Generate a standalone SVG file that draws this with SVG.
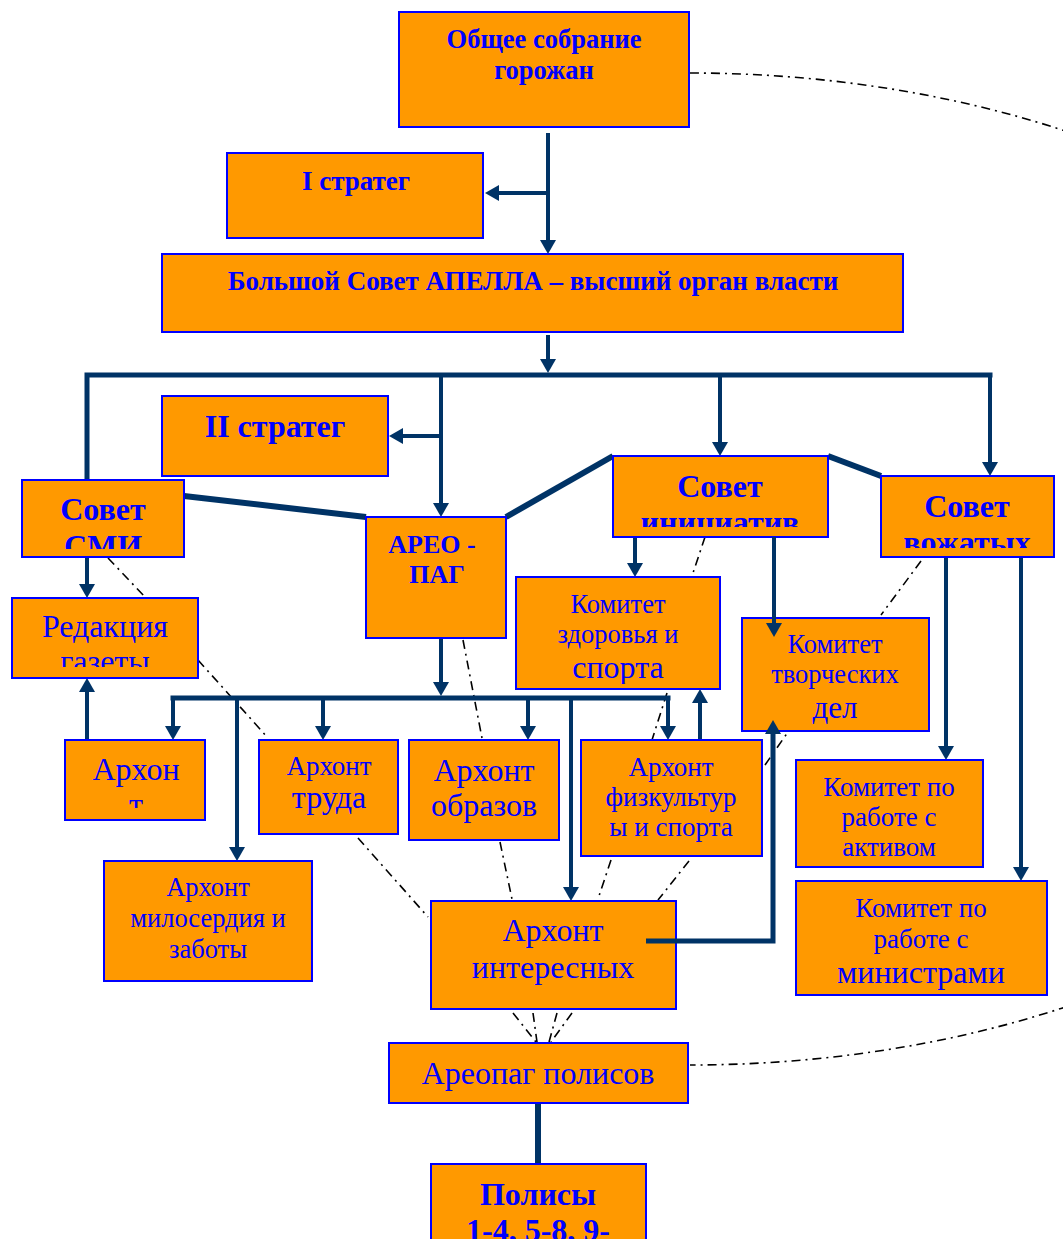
<svg xmlns="http://www.w3.org/2000/svg" width="1063" height="1239" viewBox="0 0 1063 1239">
<style>
.box{fill:#FF9900;stroke:#0000FF;stroke-width:2}
.t{font-family:"Liberation Serif","Times New Roman",serif;fill:#0000FF;text-anchor:middle}
.b{font-weight:bold}
.c{fill:none;stroke:#003366;stroke-width:4}
.bus{fill:none;stroke:#003366;stroke-width:5;stroke-linecap:square}
.k{fill:none;stroke:#003366;stroke-width:6}
.d{fill:none;stroke:#000000;stroke-width:1.6;stroke-dasharray:9 5 2 5}
</style>
<defs>
<marker id="arr" markerUnits="userSpaceOnUse" markerWidth="14" markerHeight="16" viewBox="0 0 14 16" refX="2" refY="8" orient="auto">
<path d="M0,0 L14,8 L0,16 z" fill="#003366"/>
</marker>
<clipPath id="cSmi"><rect x="23" y="481" width="160" height="68"/></clipPath>
<clipPath id="cIni"><rect x="614" y="457" width="213" height="70"/></clipPath>
<clipPath id="cVoz"><rect x="882" y="477" width="171" height="71"/></clipPath>
<clipPath id="cRed"><rect x="13" y="599" width="184" height="68"/></clipPath>
<clipPath id="cZdr"><rect x="517" y="578" width="202" height="106"/></clipPath>
<clipPath id="cArt"><rect x="66" y="741" width="138" height="67"/></clipPath>
</defs>

<g id="connectors">
<path class="d" d="M690,73 A800,496 0 0 1 690,1065"/>
<path class="d" d="M108,558 L146,598"/>
<path class="d" d="M198,660 L268,738"/>
<path class="d" d="M358,838 L428,917"/>
<path class="d" d="M463,640 L482,738"/>
<path class="d" d="M500,842 L512,899"/>
<path class="d" d="M705,537 L692,576"/>
<path class="d" d="M667,693 L652,740"/>
<path class="d" d="M765,765 L788,732"/>
<path class="d" d="M921,561 L881,615"/>
<path class="d" d="M611,860 L598,899"/>
<path class="d" d="M689,861 L658,900"/>
<path class="d" d="M513,1013 L536,1042"/>
<path class="d" d="M533,1013 L537,1042"/>
<path class="d" d="M557,1013 L549,1042"/>
<path class="d" d="M572,1013 L551,1042"/>

<path class="c" d="M548,133 V242" marker-end="url(#arr)"/>
<path class="c" d="M548,193 H497" marker-end="url(#arr)"/>
<path class="c" d="M548,335 V361" marker-end="url(#arr)"/>
<path class="bus" d="M87,480 V375 H990"/>
<path class="c" d="M990,375 V464" marker-end="url(#arr)"/>
<path class="c" d="M720,375 V444" marker-end="url(#arr)"/>
<path class="c" d="M441,375 V505" marker-end="url(#arr)"/>
<path class="c" d="M441,436 H401" marker-end="url(#arr)"/>
<path class="k" d="M184,496 L366,517"/>
<path class="k" d="M506,517 L613,456"/>
<path class="k" d="M828,456 L881,476"/>
<path class="c" d="M87,557 V586" marker-end="url(#arr)"/>
<path class="c" d="M87,740 V690" marker-end="url(#arr)"/>
<path class="c" d="M441,638 V684" marker-end="url(#arr)"/>
<path class="bus" d="M173,698 H668"/>
<path class="c" d="M173,698 V728" marker-end="url(#arr)"/>
<path class="c" d="M237,698 V849" marker-end="url(#arr)"/>
<path class="c" d="M323,698 V728" marker-end="url(#arr)"/>
<path class="c" d="M528,698 V728" marker-end="url(#arr)"/>
<path class="c" d="M571,698 V889" marker-end="url(#arr)"/>
<path class="c" d="M668,698 V728" marker-end="url(#arr)"/>
<path class="c" d="M700,740 V701" marker-end="url(#arr)"/>
<path class="c" d="M635,537 V565" marker-end="url(#arr)"/>
<path class="c" d="M946,557 V748" marker-end="url(#arr)"/>
<path class="c" d="M1021,557 V869" marker-end="url(#arr)"/>
<path class="k" d="M538,1103 V1164"/>
</g>

<g id="n-obshchee"><rect class="box" x="399" y="12" width="290" height="115"/>
<text class="t b" x="544" y="48" font-size="26.5">Общее собрание</text>
<text class="t b" x="544" y="79" font-size="26.5">горожан</text></g>

<g id="n-strateg1"><rect class="box" x="227" y="153" width="256" height="85"/>
<text class="t b" x="356" y="190" font-size="27">I стратег</text></g>

<g id="n-apella"><rect class="box" x="162" y="254" width="741" height="78"/>
<text class="t b" x="533" y="290" font-size="27">Большой Совет АПЕЛЛА – высший орган власти</text></g>

<g id="n-strateg2"><rect class="box" x="162" y="396" width="226" height="80"/>
<text class="t b" x="275" y="437" font-size="32">II стратег</text></g>

<g id="n-smi"><rect class="box" x="22" y="480" width="162" height="77"/>
<g clip-path="url(#cSmi)"><text class="t b" x="103" y="520" font-size="32">Совет</text>
<text class="t b" x="103" y="557" font-size="32">СМИ</text></g></g>

<g id="n-areopag"><rect class="box" x="366" y="517" width="140" height="121"/>
<text class="t b" x="432" y="553" font-size="26">АРЕО -</text>
<text class="t b" x="437" y="583" font-size="26">ПАГ</text></g>

<g id="n-initsiativ"><rect class="box" x="613" y="456" width="215" height="81"/>
<g clip-path="url(#cIni)"><text class="t b" x="720" y="497" font-size="32">Совет</text>
<text class="t b" x="720" y="533" font-size="32">инициатив</text></g></g>

<g id="n-vozhatyh"><rect class="box" x="881" y="476" width="173" height="81"/>
<g clip-path="url(#cVoz)"><text class="t b" x="967" y="517" font-size="32">Совет</text>
<text class="t b" x="967" y="553" font-size="32">вожатых</text></g></g>

<g id="n-redaktsiya"><rect class="box" x="12" y="598" width="186" height="80"/>
<g clip-path="url(#cRed)"><text class="t" x="105" y="637" font-size="32">Редакция</text>
<text class="t" x="105" y="672" font-size="32">газеты</text></g></g>

<g id="n-zdorovie"><rect class="box" x="516" y="577" width="204" height="112"/>
<g clip-path="url(#cZdr)"><text class="t" x="618" y="613" font-size="26.5">Комитет</text>
<text class="t" x="618" y="643" font-size="26.5">здоровья и</text>
<text class="t" x="618" y="678" font-size="32">спорта</text></g></g>

<g id="n-tvorch"><rect class="box" x="742" y="618" width="187" height="113"/>
<text class="t" x="835" y="653" font-size="26.5">Комитет</text>
<text class="t" x="835" y="683" font-size="26.5">творческих</text>
<text class="t" x="835" y="718" font-size="31">дел</text></g>

<g id="n-arhont"><rect class="box" x="65" y="740" width="140" height="80"/>
<g clip-path="url(#cArt)"><text class="t" x="136" y="780" font-size="32">Архон</text>
<text class="t" x="136" y="815" font-size="32">т</text></g></g>

<g id="n-truda"><rect class="box" x="259" y="740" width="139" height="94"/>
<text class="t" x="329" y="775" font-size="27">Архонт</text>
<text class="t" x="329" y="808" font-size="32">труда</text></g>

<g id="n-obrazov"><rect class="box" x="409" y="740" width="150" height="100"/>
<text class="t" x="484" y="781" font-size="32">Архонт</text>
<text class="t" x="484" y="816" font-size="32">образов</text></g>

<g id="n-fizkult"><rect class="box" x="581" y="740" width="181" height="116"/>
<text class="t" x="671" y="776" font-size="27">Архонт</text>
<text class="t" x="671" y="806" font-size="27">физкультур</text>
<text class="t" x="671" y="836" font-size="27">ы и спорта</text></g>

<g id="n-aktiv"><rect class="box" x="796" y="760" width="187" height="107"/>
<text class="t" x="889" y="796" font-size="27">Комитет по</text>
<text class="t" x="889" y="826" font-size="27">работе с</text>
<text class="t" x="889" y="856" font-size="27">активом</text></g>

<g id="n-miloserdie"><rect class="box" x="104" y="861" width="208" height="120"/>
<text class="t" x="208" y="896" font-size="26.5">Архонт</text>
<text class="t" x="208" y="927" font-size="26.5">милосердия и</text>
<text class="t" x="208" y="958" font-size="26.5">заботы</text></g>

<g id="n-interesnyh"><rect class="box" x="431" y="901" width="245" height="108"/>
<text class="t" x="553" y="941" font-size="32">Архонт</text>
<text class="t" x="553" y="978" font-size="32">интересных</text></g>

<g id="n-ministry"><rect class="box" x="796" y="881" width="251" height="114"/>
<text class="t" x="921" y="917" font-size="27">Комитет по</text>
<text class="t" x="921" y="948" font-size="27">работе с</text>
<text class="t" x="921" y="983" font-size="32">министрами</text></g>

<g id="n-areopag-polisov"><rect class="box" x="389" y="1043" width="299" height="60"/>
<text class="t" x="538" y="1084" font-size="32">Ареопаг полисов</text></g>

<g id="n-polisy"><rect class="box" x="431" y="1164" width="215" height="90"/>
<text class="t b" x="538" y="1205" font-size="32">Полисы</text>
<text class="t b" x="538" y="1241" font-size="32">1-4, 5-8, 9-</text></g>

<g id="connectors-over">
<path class="c" d="M774,537 V625" marker-end="url(#arr)"/>
<path class="c" style="stroke-width:5" d="M646,941 H773 V732" marker-end="url(#arr)"/>
</g>
</svg>
